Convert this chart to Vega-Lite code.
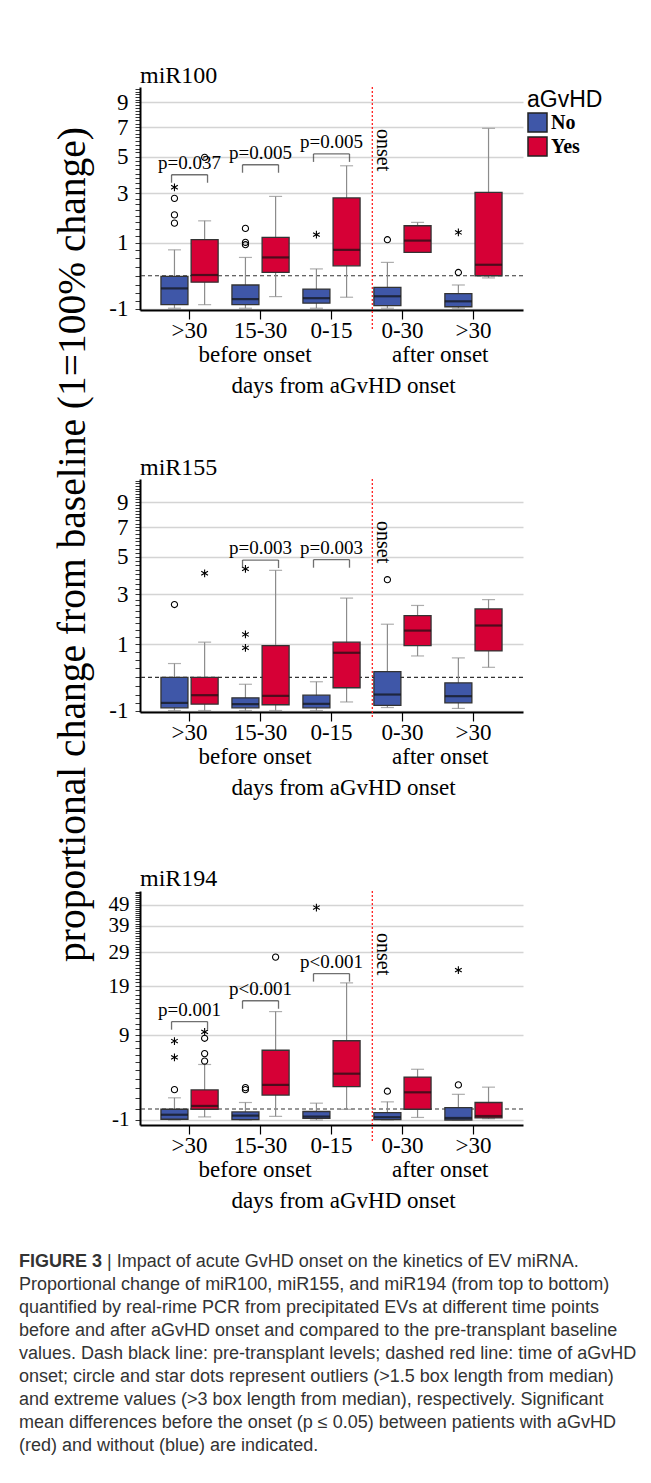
{
  "$schema": "https://vega.github.io/schema/vega-lite/v6.json",
  "background": "white",
  "padding": {"left": 19, "top": 63, "right": 5, "bottom": 5},
  "config": {"view": {"stroke": null}, "font": "Liberation Serif"},
  "datasets": {
    "refs": [{"event": "onset", "time": "a0-30", "baseline": 0}],
    "boxes": [
      {"mir": "miR100", "time": "b>30", "group": "No", "lo": -0.99, "q1": -0.87, "med": -0.36, "q3": -0.02, "hi": 0.77},
      {"mir": "miR100", "time": "b>30", "group": "Yes", "lo": -0.87, "q1": -0.18, "med": 0.02, "q3": 1.11, "hi": 1.81},
      {"mir": "miR100", "time": "b15-30", "group": "No", "lo": -0.99, "q1": -0.87, "med": -0.69, "q3": -0.26, "hi": 0.53},
      {"mir": "miR100", "time": "b15-30", "group": "Yes", "lo": -0.61, "q1": 0.09, "med": 0.53, "q3": 1.19, "hi": 2.86},
      {"mir": "miR100", "time": "b0-15", "group": "No", "lo": -0.99, "q1": -0.82, "med": -0.66, "q3": -0.38, "hi": 0.19},
      {"mir": "miR100", "time": "b0-15", "group": "Yes", "lo": -0.63, "q1": 0.28, "med": 0.77, "q3": 2.79, "hi": 4.45},
      {"mir": "miR100", "time": "a0-30", "group": "No", "lo": -0.99, "q1": -0.9, "med": -0.6, "q3": -0.33, "hi": 0.38},
      {"mir": "miR100", "time": "a0-30", "group": "Yes", "lo": 0.69, "q1": 0.69, "med": 1.08, "q3": 1.62, "hi": 1.75},
      {"mir": "miR100", "time": "a>30", "group": "No", "lo": -0.99, "q1": -0.94, "med": -0.76, "q3": -0.52, "hi": -0.26},
      {"mir": "miR100", "time": "a>30", "group": "Yes", "lo": -0.06, "q1": 0, "med": 0.31, "q3": 3.05, "hi": 6.9},
      {"mir": "miR155", "time": "b>30", "group": "No", "lo": -1, "q1": -0.91, "med": -0.75, "q3": 0, "hi": 0.39},
      {"mir": "miR155", "time": "b>30", "group": "Yes", "lo": -1, "q1": -0.79, "med": -0.51, "q3": 0, "hi": 1.07},
      {"mir": "miR155", "time": "b15-30", "group": "No", "lo": -1, "q1": -0.91, "med": -0.79, "q3": -0.59, "hi": -0.19},
      {"mir": "miR155", "time": "b15-30", "group": "Yes", "lo": -1, "q1": -0.81, "med": -0.53, "q3": 0.95, "hi": 4.22},
      {"mir": "miR155", "time": "b0-15", "group": "No", "lo": -1, "q1": -0.91, "med": -0.78, "q3": -0.51, "hi": -0.12},
      {"mir": "miR155", "time": "b0-15", "group": "Yes", "lo": -0.72, "q1": -0.29, "med": 0.72, "q3": 1.07, "hi": 2.82},
      {"mir": "miR155", "time": "a0-30", "group": "No", "lo": -0.9, "q1": -0.83, "med": -0.49, "q3": 0.16, "hi": 1.72},
      {"mir": "miR155", "time": "a0-30", "group": "Yes", "lo": 0.62, "q1": 0.95, "med": 1.48, "q3": 2.06, "hi": 2.49},
      {"mir": "miR155", "time": "a>30", "group": "No", "lo": -0.93, "q1": -0.75, "med": -0.54, "q3": -0.15, "hi": 0.56},
      {"mir": "miR155", "time": "a>30", "group": "Yes", "lo": 0.28, "q1": 0.78, "med": 1.67, "q3": 2.34, "hi": 2.75},
      {"mir": "miR194", "time": "b>30", "group": "No", "lo": -1, "q1": -0.93, "med": -0.51, "q3": -0.02, "hi": 1.02},
      {"mir": "miR194", "time": "b>30", "group": "Yes", "lo": -0.71, "q1": -0.02, "med": 0.27, "q3": 1.8, "hi": 4.72},
      {"mir": "miR194", "time": "b15-30", "group": "No", "lo": -1, "q1": -0.96, "med": -0.59, "q3": -0.26, "hi": 0.58},
      {"mir": "miR194", "time": "b15-30", "group": "Yes", "lo": -0.66, "q1": 1.29, "med": 2.33, "q3": 6.66, "hi": 13.3},
      {"mir": "miR194", "time": "b0-15", "group": "No", "lo": -1, "q1": -0.85, "med": -0.68, "q3": -0.22, "hi": 0.52},
      {"mir": "miR194", "time": "b0-15", "group": "Yes", "lo": -0.03, "q1": 2.15, "med": 3.59, "q3": 8.09, "hi": 19.9},
      {"mir": "miR194", "time": "a0-30", "group": "No", "lo": -1, "q1": -0.96, "med": -0.74, "q3": -0.32, "hi": 0.64},
      {"mir": "miR194", "time": "a0-30", "group": "Yes", "lo": -0.76, "q1": -0.02, "med": 1.56, "q3": 3.2, "hi": 4.12},
      {"mir": "miR194", "time": "a>30", "group": "No", "lo": -1, "q1": -1, "med": -0.81, "q3": 0.12, "hi": 1.36},
      {"mir": "miR194", "time": "a>30", "group": "Yes", "lo": -0.88, "q1": -0.81, "med": -0.63, "q3": 0.58, "hi": 2.09}
    ],
    "outliers": [
      {"mir": "miR100", "time": "b>30", "group": "No", "value": 2.77, "kind": "circle"},
      {"mir": "miR100", "time": "b>30", "group": "No", "value": 2.05, "kind": "circle"},
      {"mir": "miR100", "time": "b>30", "group": "No", "value": 1.72, "kind": "circle"},
      {"mir": "miR100", "time": "b>30", "group": "No", "value": 3.3, "kind": "star"},
      {"mir": "miR100", "time": "b>30", "group": "Yes", "value": 4.95, "kind": "circle"},
      {"mir": "miR100", "time": "b15-30", "group": "No", "value": 1.52, "kind": "circle"},
      {"mir": "miR100", "time": "b15-30", "group": "No", "value": 1.02, "kind": "circle"},
      {"mir": "miR100", "time": "b15-30", "group": "No", "value": 0.94, "kind": "circle"},
      {"mir": "miR100", "time": "b0-15", "group": "No", "value": 1.29, "kind": "star"},
      {"mir": "miR100", "time": "a0-30", "group": "No", "value": 1.11, "kind": "circle"},
      {"mir": "miR100", "time": "a>30", "group": "No", "value": 0.09, "kind": "circle"},
      {"mir": "miR100", "time": "a>30", "group": "No", "value": 1.37, "kind": "star"},
      {"mir": "miR155", "time": "b>30", "group": "No", "value": 2.53, "kind": "circle"},
      {"mir": "miR155", "time": "b>30", "group": "Yes", "value": 4.06, "kind": "star"},
      {"mir": "miR155", "time": "b15-30", "group": "No", "value": 4.3, "kind": "star"},
      {"mir": "miR155", "time": "b15-30", "group": "No", "value": 1.34, "kind": "star"},
      {"mir": "miR155", "time": "b15-30", "group": "No", "value": 0.88, "kind": "star"},
      {"mir": "miR155", "time": "a0-30", "group": "No", "value": 3.72, "kind": "circle"},
      {"mir": "miR194", "time": "b>30", "group": "No", "value": 1.83, "kind": "circle"},
      {"mir": "miR194", "time": "b>30", "group": "No", "value": 5.66, "kind": "star"},
      {"mir": "miR194", "time": "b>30", "group": "No", "value": 8.04, "kind": "star"},
      {"mir": "miR194", "time": "b>30", "group": "Yes", "value": 5.16, "kind": "circle"},
      {"mir": "miR194", "time": "b>30", "group": "Yes", "value": 6.18, "kind": "circle"},
      {"mir": "miR194", "time": "b>30", "group": "Yes", "value": 8.48, "kind": "circle"},
      {"mir": "miR194", "time": "b>30", "group": "Yes", "value": 9.54, "kind": "star"},
      {"mir": "miR194", "time": "b15-30", "group": "No", "value": 2.04, "kind": "circle"},
      {"mir": "miR194", "time": "b15-30", "group": "No", "value": 1.83, "kind": "circle"},
      {"mir": "miR194", "time": "b15-30", "group": "Yes", "value": 27.4, "kind": "circle"},
      {"mir": "miR194", "time": "b0-15", "group": "No", "value": 47.5, "kind": "star"},
      {"mir": "miR194", "time": "a0-30", "group": "No", "value": 1.67, "kind": "circle"},
      {"mir": "miR194", "time": "a>30", "group": "No", "value": 2.33, "kind": "circle"},
      {"mir": "miR194", "time": "a>30", "group": "No", "value": 23.4, "kind": "star"}
    ],
    "pvals": [
      {"mir": "miR100", "time": "b>30", "bracket": 3.95, "label": "p=0.037"},
      {"mir": "miR100", "time": "b15-30", "bracket": 4.51, "label": "p=0.005"},
      {"mir": "miR100", "time": "b0-15", "bracket": 5.16, "label": "p=0.005"},
      {"mir": "miR155", "time": "b15-30", "bracket": 4.81, "label": "p=0.003"},
      {"mir": "miR155", "time": "b0-15", "bracket": 4.83, "label": "p=0.003"},
      {"mir": "miR194", "time": "b>30", "bracket": 11.35, "label": "p=0.001"},
      {"mir": "miR194", "time": "b15-30", "bracket": 15.6, "label": "p<0.001"},
      {"mir": "miR194", "time": "b0-15", "bracket": 22.4, "label": "p<0.001"}
    ],
    "caption": [
      {"line": 1, "part": "bold", "text": "FIGURE 3"},
      {"line": 1, "part": "rest", "text": "| Impact of acute GvHD onset on the kinetics of EV miRNA."},
      {"line": 2, "part": "normal", "text": "Proportional change of miR100, miR155, and miR194 (from top to bottom)"},
      {"line": 3, "part": "normal", "text": "quantified by real-rime PCR from precipitated EVs at different time points"},
      {"line": 4, "part": "normal", "text": "before and after aGvHD onset and compared to the pre-transplant baseline"},
      {"line": 5, "part": "normal", "text": "values. Dash black line: pre-transplant levels; dashed red line: time of aGvHD"},
      {"line": 6, "part": "normal", "text": "onset; circle and star dots represent outliers (>1.5 box length from median)"},
      {"line": 7, "part": "normal", "text": "and extreme values (>3 box length from median), respectively. Significant"},
      {"line": 8, "part": "normal", "text": "mean differences before the onset (p ≤ 0.05) between patients with aGvHD"},
      {"line": 9, "part": "normal", "text": "(red) and without (blue) are indicated."}
    ]
  },
  "bounds": "flush",
  "spacing": 169,
  "resolve": {"scale": {"x": "independent", "y": "independent"}, "legend": {"color": "independent"}},
  "vconcat": [
    {
      "title": {"text": "miR100", "anchor": "start", "frame": "group", "fontSize": 24, "font": "Liberation Serif", "fontWeight": "normal", "color": "black", "offset": -29, "baseline": "alphabetic"},
      "width": 383,
      "height": 223,
      "layer": [
        {"data": {"name": "refs"}, "mark": {"type": "rule", "strokeDash": [4, 3], "color": "#333", "strokeWidth": 1.2},
         "encoding": {"y": {"field": "baseline", "type": "quantitative"}}},
        {"data": {"name": "boxes"}, "transform": [{"filter": "datum.mir == 'miR100'"}],
         "mark": {"type": "rule", "color": "#8c8c8c", "strokeWidth": 1.2},
         "encoding": {
           "x": {"field": "time", "type": "nominal", "scale": {"domain": ["b>30", "b15-30", "b0-15", "a0-30", "a>30"], "paddingInner": 0.15, "paddingOuter": 0.273},
                 "axis": {"title": ["before onset\u00a0\u00a0\u00a0\u00a0\u00a0\u00a0\u00a0\u00a0\u00a0\u00a0\u00a0\u00a0\u00a0\u00a0after onset", "days from aGvHD onset"], "labelExpr": "substring(datum.label, 1)", "labelAngle": 0, "labelFontSize": 23, "labelFont": "Liberation Serif", "labelColor": "black", "labelPadding": 0, "tickSize": 9, "tickColor": "black", "tickWidth": 1.2, "domainColor": "black", "domainWidth": 2, "titleFont": "Liberation Serif", "titleFontSize": 23, "titleFontWeight": "normal", "titleColor": "black", "titleX": 203, "titleY": 51, "titleBaseline": "alphabetic", "titleLineHeight": 31, "titleAlign": "center"}},
           "xOffset": {"field": "group", "type": "nominal", "scale": {"domain": ["No", "Yes"], "paddingInner": 0, "paddingOuter": 0}},
           "y": {"field": "lo", "type": "quantitative", "scale": {"type": "symlog", "constant": 4, "domain": [-1.05, 10.44], "nice": false, "zero": false},
                 "axis": {"title": "proportional change from baseline (1=100% change)", "titleFont": "Liberation Serif", "titleFontSize": 39.5, "titleFontWeight": "normal", "titleColor": "black", "titleAngle": 270, "titleX": -56, "titleY": 457, "titleAlign": "center", "titleBaseline": "alphabetic",
                          "tickCount": 500,
                          "values": [-1,-0.75,-0.5,-0.25,0,0.25,0.5,0.75,1,1.25,1.5,1.75,2,2.25,2.5,2.75,3,3.25,3.5,3.75,4,4.25,4.5,4.75,5,5.25,5.5,5.75,6,6.25,6.5,6.75,7,7.25,7.5,7.75,8,8.25,8.5,8.75,9,9.25,9.5,9.75,10,10.25],
                          "labelExpr": "indexof([-1,1,3,5,7,9], datum.value) >= 0 ? '' + datum.value : ''",
                          "grid": true, "gridColor": "#d4d4d4", "gridWidth": 1.5,
                          "gridOpacity": {"condition": {"test": "indexof([-1,1,3,5,7,9], datum.value) >= 0", "value": 1}, "value": 0},
                          "tickSize": 5, "tickColor": "black", "tickWidth": 0.8, "domainColor": "black", "domainWidth": 2,
                          "labelFont": "Liberation Serif", "labelFontSize": 23, "labelColor": "black", "labelPadding": 7, "labelOverlap": false, "labelFlush": false}},
           "y2": {"field": "hi"}
         }},
        {"data": {"name": "boxes"}, "transform": [{"filter": "datum.mir == 'miR100'"}],
         "mark": {"type": "tick", "orient": "horizontal", "size": 13, "thickness": 1.2, "color": "#8c8c8c"},
         "encoding": {"x": {"field": "time", "type": "nominal"}, "xOffset": {"field": "group", "type": "nominal"}, "y": {"field": "lo", "type": "quantitative"}}},
        {"data": {"name": "boxes"}, "transform": [{"filter": "datum.mir == 'miR100'"}],
         "mark": {"type": "tick", "orient": "horizontal", "size": 13, "thickness": 1.2, "color": "#8c8c8c"},
         "encoding": {"x": {"field": "time", "type": "nominal"}, "xOffset": {"field": "group", "type": "nominal"}, "y": {"field": "hi", "type": "quantitative"}}},
        {"data": {"name": "boxes"}, "transform": [{"filter": "datum.mir == 'miR100'"}],
         "mark": {"type": "bar", "width": 27, "stroke": "#333", "strokeWidth": 1.3, "opacity": 1},
         "encoding": {"x": {"field": "time", "type": "nominal"}, "xOffset": {"field": "group", "type": "nominal"},
           "y": {"field": "q1", "type": "quantitative"}, "y2": {"field": "q3"},
           "color": {"field": "group", "type": "nominal", "scale": {"domain": ["No", "Yes"], "range": ["#3F57A8", "#D60036"]},
             "legend": {"title": "aGvHD", "orient": "none", "legendX": 387, "legendY": 2, "padding": 0,
               "titleFont": "Liberation Sans", "titleFontSize": 23, "titleFontWeight": "normal", "titleColor": "black", "titleBaseline": "top", "titlePadding": 0,
               "labelFont": "Liberation Serif", "labelFontSize": 20, "labelFontWeight": "bold", "labelColor": "black", "labelOffset": 3,
               "symbolType": "square", "symbolSize": 361, "symbolStrokeColor": "#222", "symbolStrokeWidth": 1.5, "symbolOpacity": 1, "rowPadding": -1}}}},
        {"data": {"name": "boxes"}, "transform": [{"filter": "datum.mir == 'miR100'"}],
         "mark": {"type": "tick", "orient": "horizontal", "size": 27, "thickness": 2.2, "color": "#111"},
         "encoding": {"x": {"field": "time", "type": "nominal"}, "xOffset": {"field": "group", "type": "nominal"}, "y": {"field": "med", "type": "quantitative"}}},
        {"data": {"name": "outliers"}, "transform": [{"filter": "datum.mir == 'miR100' && datum.kind == 'circle'"}],
         "mark": {"type": "point", "shape": "circle", "filled": false, "size": 38, "color": "black", "strokeWidth": 1.1, "opacity": 1},
         "encoding": {"x": {"field": "time", "type": "nominal"}, "xOffset": {"field": "group", "type": "nominal"}, "y": {"field": "value", "type": "quantitative"}}},
        {"data": {"name": "outliers"}, "transform": [{"filter": "datum.mir == 'miR100' && datum.kind == 'star'"}],
         "mark": {"type": "point", "shape": "M0,-1L0,1M-0.87,-0.5L0.87,0.5M-0.87,0.5L0.87,-0.5", "filled": false, "size": 60, "color": "black", "strokeWidth": 1.1, "opacity": 1},
         "encoding": {"x": {"field": "time", "type": "nominal"}, "xOffset": {"field": "group", "type": "nominal"}, "y": {"field": "value", "type": "quantitative"}}},
        {"data": {"name": "pvals"}, "transform": [{"filter": "datum.mir == 'miR100'"}],
         "mark": {"type": "tick", "orient": "horizontal", "size": 36, "thickness": 1.3, "color": "#333"},
         "encoding": {"x": {"field": "time", "type": "nominal"}, "y": {"field": "bracket", "type": "quantitative"}}},
        {"data": {"name": "pvals"}, "transform": [{"filter": "datum.mir == 'miR100'"}],
         "mark": {"type": "tick", "orient": "vertical", "size": 8, "thickness": 1.3, "color": "#333", "xOffset": -18, "yOffset": 4},
         "encoding": {"x": {"field": "time", "type": "nominal"}, "y": {"field": "bracket", "type": "quantitative"}}},
        {"data": {"name": "pvals"}, "transform": [{"filter": "datum.mir == 'miR100'"}],
         "mark": {"type": "tick", "orient": "vertical", "size": 8, "thickness": 1.3, "color": "#333", "xOffset": 18, "yOffset": 4},
         "encoding": {"x": {"field": "time", "type": "nominal"}, "y": {"field": "bracket", "type": "quantitative"}}},
        {"data": {"name": "pvals"}, "transform": [{"filter": "datum.mir == 'miR100'"}],
         "mark": {"type": "text", "baseline": "alphabetic", "align": "center", "dy": -6, "fontSize": 19, "font": "Liberation Serif", "color": "black"},
         "encoding": {"x": {"field": "time", "type": "nominal"}, "y": {"field": "bracket", "type": "quantitative"}, "text": {"field": "label"}}},
        {"data": {"name": "refs"}, "mark": {"type": "rule", "color": "#ff2020", "strokeDash": [2, 2], "strokeWidth": 1.3},
         "encoding": {"x": {"field": "time", "type": "nominal", "bandPosition": 0}, "y": {"datum": 10.44, "type": "quantitative"}, "y2": {"datum": -1.79}}},
        {"data": {"name": "refs"}, "mark": {"type": "text", "angle": 90, "align": "left", "baseline": "alphabetic", "dx": 42, "dy": -5, "fontSize": 20, "font": "Liberation Serif", "color": "black"},
         "encoding": {"x": {"field": "time", "type": "nominal", "bandPosition": 0}, "y": {"datum": 10.44, "type": "quantitative"}, "text": {"field": "event"}}}
      ]
    },
    {
      "bounds": "flush",
      "spacing": 179,
      "resolve": {"scale": {"x": "independent", "y": "independent"}, "legend": {"color": "independent"}},
      "vconcat": [
        {
          "title": {"text": "miR155", "anchor": "start", "frame": "group", "fontSize": 24, "font": "Liberation Serif", "fontWeight": "normal", "color": "black", "offset": -29, "baseline": "alphabetic"},
          "width": 383,
          "height": 233,
          "layer": [
            {"data": {"name": "refs"}, "mark": {"type": "rule", "strokeDash": [4, 3], "color": "#333", "strokeWidth": 1.2},
             "encoding": {"y": {"field": "baseline", "type": "quantitative"}}},
            {"data": {"name": "boxes"}, "transform": [{"filter": "datum.mir == 'miR155'"}],
             "mark": {"type": "rule", "color": "#8c8c8c", "strokeWidth": 1.2},
             "encoding": {
               "x": {"field": "time", "type": "nominal", "scale": {"domain": ["b>30", "b15-30", "b0-15", "a0-30", "a>30"], "paddingInner": 0.15, "paddingOuter": 0.273},
                     "axis": {"title": ["before onset\u00a0\u00a0\u00a0\u00a0\u00a0\u00a0\u00a0\u00a0\u00a0\u00a0\u00a0\u00a0\u00a0\u00a0after onset", "days from aGvHD onset"], "labelExpr": "substring(datum.label, 1)", "labelAngle": 0, "labelFontSize": 23, "labelFont": "Liberation Serif", "labelColor": "black", "labelPadding": 0, "tickSize": 9, "tickColor": "black", "tickWidth": 1.2, "domainColor": "black", "domainWidth": 2, "titleFont": "Liberation Serif", "titleFontSize": 23, "titleFontWeight": "normal", "titleColor": "black", "titleX": 203, "titleY": 51, "titleBaseline": "alphabetic", "titleLineHeight": 31, "titleAlign": "center"}},
               "xOffset": {"field": "group", "type": "nominal", "scale": {"domain": ["No", "Yes"], "paddingInner": 0, "paddingOuter": 0}},
               "y": {"field": "lo", "type": "quantitative", "scale": {"type": "symlog", "constant": 4, "domain": [-1.05, 11.2], "nice": false, "zero": false},
                     "axis": {"title": null, "tickCount": 500,
                              "values": [-1,-0.75,-0.5,-0.25,0,0.25,0.5,0.75,1,1.25,1.5,1.75,2,2.25,2.5,2.75,3,3.25,3.5,3.75,4,4.25,4.5,4.75,5,5.25,5.5,5.75,6,6.25,6.5,6.75,7,7.25,7.5,7.75,8,8.25,8.5,8.75,9,9.25,9.5,9.75,10,10.25,10.5,10.75,11],
                              "labelExpr": "indexof([-1,1,3,5,7,9], datum.value) >= 0 ? '' + datum.value : ''",
                              "grid": true, "gridColor": "#d4d4d4", "gridWidth": 1.5,
                              "gridOpacity": {"condition": {"test": "indexof([-1,1,3,5,7,9], datum.value) >= 0", "value": 1}, "value": 0},
                              "tickSize": 5, "tickColor": "black", "tickWidth": 0.8, "domainColor": "black", "domainWidth": 2,
                              "labelFont": "Liberation Serif", "labelFontSize": 23, "labelColor": "black", "labelPadding": 7, "labelOverlap": false, "labelFlush": false}},
               "y2": {"field": "hi"}
             }},
            {"data": {"name": "boxes"}, "transform": [{"filter": "datum.mir == 'miR155'"}],
             "mark": {"type": "tick", "orient": "horizontal", "size": 13, "thickness": 1.2, "color": "#8c8c8c"},
             "encoding": {"x": {"field": "time", "type": "nominal"}, "xOffset": {"field": "group", "type": "nominal"}, "y": {"field": "lo", "type": "quantitative"}}},
            {"data": {"name": "boxes"}, "transform": [{"filter": "datum.mir == 'miR155'"}],
             "mark": {"type": "tick", "orient": "horizontal", "size": 13, "thickness": 1.2, "color": "#8c8c8c"},
             "encoding": {"x": {"field": "time", "type": "nominal"}, "xOffset": {"field": "group", "type": "nominal"}, "y": {"field": "hi", "type": "quantitative"}}},
            {"data": {"name": "boxes"}, "transform": [{"filter": "datum.mir == 'miR155'"}],
             "mark": {"type": "bar", "width": 27, "stroke": "#333", "strokeWidth": 1.3, "opacity": 1},
             "encoding": {"x": {"field": "time", "type": "nominal"}, "xOffset": {"field": "group", "type": "nominal"},
               "y": {"field": "q1", "type": "quantitative"}, "y2": {"field": "q3"},
               "color": {"field": "group", "type": "nominal", "scale": {"domain": ["No", "Yes"], "range": ["#3F57A8", "#D60036"]}, "legend": null}}},
            {"data": {"name": "boxes"}, "transform": [{"filter": "datum.mir == 'miR155'"}],
             "mark": {"type": "tick", "orient": "horizontal", "size": 27, "thickness": 2.2, "color": "#111"},
             "encoding": {"x": {"field": "time", "type": "nominal"}, "xOffset": {"field": "group", "type": "nominal"}, "y": {"field": "med", "type": "quantitative"}}},
            {"data": {"name": "outliers"}, "transform": [{"filter": "datum.mir == 'miR155' && datum.kind == 'circle'"}],
             "mark": {"type": "point", "shape": "circle", "filled": false, "size": 38, "color": "black", "strokeWidth": 1.1, "opacity": 1},
             "encoding": {"x": {"field": "time", "type": "nominal"}, "xOffset": {"field": "group", "type": "nominal"}, "y": {"field": "value", "type": "quantitative"}}},
            {"data": {"name": "outliers"}, "transform": [{"filter": "datum.mir == 'miR155' && datum.kind == 'star'"}],
             "mark": {"type": "point", "shape": "M0,-1L0,1M-0.87,-0.5L0.87,0.5M-0.87,0.5L0.87,-0.5", "filled": false, "size": 60, "color": "black", "strokeWidth": 1.1, "opacity": 1},
             "encoding": {"x": {"field": "time", "type": "nominal"}, "xOffset": {"field": "group", "type": "nominal"}, "y": {"field": "value", "type": "quantitative"}}},
            {"data": {"name": "pvals"}, "transform": [{"filter": "datum.mir == 'miR155'"}],
             "mark": {"type": "tick", "orient": "horizontal", "size": 36, "thickness": 1.3, "color": "#333"},
             "encoding": {"x": {"field": "time", "type": "nominal"}, "y": {"field": "bracket", "type": "quantitative"}}},
            {"data": {"name": "pvals"}, "transform": [{"filter": "datum.mir == 'miR155'"}],
             "mark": {"type": "tick", "orient": "vertical", "size": 8, "thickness": 1.3, "color": "#333", "xOffset": -18, "yOffset": 4},
             "encoding": {"x": {"field": "time", "type": "nominal"}, "y": {"field": "bracket", "type": "quantitative"}}},
            {"data": {"name": "pvals"}, "transform": [{"filter": "datum.mir == 'miR155'"}],
             "mark": {"type": "tick", "orient": "vertical", "size": 8, "thickness": 1.3, "color": "#333", "xOffset": 18, "yOffset": 4},
             "encoding": {"x": {"field": "time", "type": "nominal"}, "y": {"field": "bracket", "type": "quantitative"}}},
            {"data": {"name": "pvals"}, "transform": [{"filter": "datum.mir == 'miR155'"}],
             "mark": {"type": "text", "baseline": "alphabetic", "align": "center", "dy": -6, "fontSize": 19, "font": "Liberation Serif", "color": "black"},
             "encoding": {"x": {"field": "time", "type": "nominal"}, "y": {"field": "bracket", "type": "quantitative"}, "text": {"field": "label"}}},
            {"data": {"name": "refs"}, "mark": {"type": "rule", "color": "#ff2020", "strokeDash": [2, 2], "strokeWidth": 1.3},
             "encoding": {"x": {"field": "time", "type": "nominal", "bandPosition": 0}, "y": {"datum": 11.2, "type": "quantitative"}, "y2": {"datum": -1.28}}},
            {"data": {"name": "refs"}, "mark": {"type": "text", "angle": 90, "align": "left", "baseline": "alphabetic", "dx": 42, "dy": -5, "fontSize": 20, "font": "Liberation Serif", "color": "black"},
             "encoding": {"x": {"field": "time", "type": "nominal", "bandPosition": 0}, "y": {"datum": 11.2, "type": "quantitative"}, "text": {"field": "event"}}}
          ]
        },
        {
          "bounds": "flush",
          "spacing": 142,
          "resolve": {"scale": {"x": "independent", "y": "independent"}, "legend": {"color": "independent"}},
          "vconcat": [
            {
              "title": {"text": "miR194", "anchor": "start", "frame": "group", "fontSize": 24, "font": "Liberation Serif", "fontWeight": "normal", "color": "black", "offset": -29, "baseline": "alphabetic"},
              "width": 383,
              "height": 234,
              "layer": [
                {"data": {"name": "refs"}, "mark": {"type": "rule", "strokeDash": [4, 3], "color": "#333", "strokeWidth": 1.2},
                 "encoding": {"y": {"field": "baseline", "type": "quantitative"}}},
                {"data": {"name": "boxes"}, "transform": [{"filter": "datum.mir == 'miR194'"}],
                 "mark": {"type": "rule", "color": "#8c8c8c", "strokeWidth": 1.2},
                 "encoding": {
                   "x": {"field": "time", "type": "nominal", "scale": {"domain": ["b>30", "b15-30", "b0-15", "a0-30", "a>30"], "paddingInner": 0.15, "paddingOuter": 0.273},
                         "axis": {"title": ["before onset\u00a0\u00a0\u00a0\u00a0\u00a0\u00a0\u00a0\u00a0\u00a0\u00a0\u00a0\u00a0\u00a0\u00a0after onset", "days from aGvHD onset"], "labelExpr": "substring(datum.label, 1)", "labelAngle": 0, "labelFontSize": 23, "labelFont": "Liberation Serif", "labelColor": "black", "labelPadding": 0, "tickSize": 9, "tickColor": "black", "tickWidth": 1.2, "domainColor": "black", "domainWidth": 2, "titleFont": "Liberation Serif", "titleFontSize": 23, "titleFontWeight": "normal", "titleColor": "black", "titleX": 203, "titleY": 51, "titleBaseline": "alphabetic", "titleLineHeight": 31, "titleAlign": "center"}},
                   "xOffset": {"field": "group", "type": "nominal", "scale": {"domain": ["No", "Yes"], "paddingInner": 0, "paddingOuter": 0}},
                   "y": {"field": "lo", "type": "quantitative", "scale": {"type": "symlog", "constant": 10, "domain": [-1.49, 56.4], "nice": false, "zero": false},
                         "axis": {"title": null, "tickCount": 500,
                                  "values": [-1,0,1,2,3,4,5,6,7,8,9,10,11,12,13,14,15,16,17,18,19,20,21,22,23,24,25,26,27,28,29,30,31,32,33,34,35,36,37,38,39,40,41,42,43,44,45,46,47,48,49,50,51,52,53,54,55,56],
                                  "labelExpr": "indexof([-1,9,19,29,39,49], datum.value) >= 0 ? '' + datum.value : ''",
                                  "grid": true, "gridColor": "#d4d4d4", "gridWidth": 1.5,
                                  "gridOpacity": {"condition": {"test": "indexof([-1,9,19,29,39,49], datum.value) >= 0", "value": 1}, "value": 0},
                                  "tickSize": 5, "tickColor": "black", "tickWidth": 0.8, "domainColor": "black", "domainWidth": 2,
                                  "labelFont": "Liberation Serif", "labelFontSize": 21, "labelColor": "black", "labelPadding": 6, "labelOverlap": false, "labelFlush": false}},
                   "y2": {"field": "hi"}
                 }},
                {"data": {"name": "boxes"}, "transform": [{"filter": "datum.mir == 'miR194'"}],
                 "mark": {"type": "tick", "orient": "horizontal", "size": 13, "thickness": 1.2, "color": "#8c8c8c"},
                 "encoding": {"x": {"field": "time", "type": "nominal"}, "xOffset": {"field": "group", "type": "nominal"}, "y": {"field": "lo", "type": "quantitative"}}},
                {"data": {"name": "boxes"}, "transform": [{"filter": "datum.mir == 'miR194'"}],
                 "mark": {"type": "tick", "orient": "horizontal", "size": 13, "thickness": 1.2, "color": "#8c8c8c"},
                 "encoding": {"x": {"field": "time", "type": "nominal"}, "xOffset": {"field": "group", "type": "nominal"}, "y": {"field": "hi", "type": "quantitative"}}},
                {"data": {"name": "boxes"}, "transform": [{"filter": "datum.mir == 'miR194'"}],
                 "mark": {"type": "bar", "width": 27, "stroke": "#333", "strokeWidth": 1.3, "opacity": 1},
                 "encoding": {"x": {"field": "time", "type": "nominal"}, "xOffset": {"field": "group", "type": "nominal"},
                   "y": {"field": "q1", "type": "quantitative"}, "y2": {"field": "q3"},
                   "color": {"field": "group", "type": "nominal", "scale": {"domain": ["No", "Yes"], "range": ["#3F57A8", "#D60036"]}, "legend": null}}},
                {"data": {"name": "boxes"}, "transform": [{"filter": "datum.mir == 'miR194'"}],
                 "mark": {"type": "tick", "orient": "horizontal", "size": 27, "thickness": 2.2, "color": "#111"},
                 "encoding": {"x": {"field": "time", "type": "nominal"}, "xOffset": {"field": "group", "type": "nominal"}, "y": {"field": "med", "type": "quantitative"}}},
                {"data": {"name": "outliers"}, "transform": [{"filter": "datum.mir == 'miR194' && datum.kind == 'circle'"}],
                 "mark": {"type": "point", "shape": "circle", "filled": false, "size": 38, "color": "black", "strokeWidth": 1.1, "opacity": 1},
                 "encoding": {"x": {"field": "time", "type": "nominal"}, "xOffset": {"field": "group", "type": "nominal"}, "y": {"field": "value", "type": "quantitative"}}},
                {"data": {"name": "outliers"}, "transform": [{"filter": "datum.mir == 'miR194' && datum.kind == 'star'"}],
                 "mark": {"type": "point", "shape": "M0,-1L0,1M-0.87,-0.5L0.87,0.5M-0.87,0.5L0.87,-0.5", "filled": false, "size": 60, "color": "black", "strokeWidth": 1.1, "opacity": 1},
                 "encoding": {"x": {"field": "time", "type": "nominal"}, "xOffset": {"field": "group", "type": "nominal"}, "y": {"field": "value", "type": "quantitative"}}},
                {"data": {"name": "pvals"}, "transform": [{"filter": "datum.mir == 'miR194'"}],
                 "mark": {"type": "tick", "orient": "horizontal", "size": 36, "thickness": 1.3, "color": "#333"},
                 "encoding": {"x": {"field": "time", "type": "nominal"}, "y": {"field": "bracket", "type": "quantitative"}}},
                {"data": {"name": "pvals"}, "transform": [{"filter": "datum.mir == 'miR194'"}],
                 "mark": {"type": "tick", "orient": "vertical", "size": 8, "thickness": 1.3, "color": "#333", "xOffset": -18, "yOffset": 4},
                 "encoding": {"x": {"field": "time", "type": "nominal"}, "y": {"field": "bracket", "type": "quantitative"}}},
                {"data": {"name": "pvals"}, "transform": [{"filter": "datum.mir == 'miR194'"}],
                 "mark": {"type": "tick", "orient": "vertical", "size": 8, "thickness": 1.3, "color": "#333", "xOffset": 18, "yOffset": 4},
                 "encoding": {"x": {"field": "time", "type": "nominal"}, "y": {"field": "bracket", "type": "quantitative"}}},
                {"data": {"name": "pvals"}, "transform": [{"filter": "datum.mir == 'miR194'"}],
                 "mark": {"type": "text", "baseline": "alphabetic", "align": "center", "dy": -6, "fontSize": 19, "font": "Liberation Serif", "color": "black"},
                 "encoding": {"x": {"field": "time", "type": "nominal"}, "y": {"field": "bracket", "type": "quantitative"}, "text": {"field": "label"}}},
                {"data": {"name": "refs"}, "mark": {"type": "rule", "color": "#ff2020", "strokeDash": [2, 2], "strokeWidth": 1.3},
                 "encoding": {"x": {"field": "time", "type": "nominal", "bandPosition": 0}, "y": {"datum": 56.4, "type": "quantitative"}, "y2": {"datum": -3.2}}},
                {"data": {"name": "refs"}, "mark": {"type": "text", "angle": 90, "align": "left", "baseline": "alphabetic", "dx": 42, "dy": -5, "fontSize": 20, "font": "Liberation Serif", "color": "black"},
                 "encoding": {"x": {"field": "time", "type": "nominal", "bandPosition": 0}, "y": {"datum": 56.4, "type": "quantitative"}, "text": {"field": "event"}}}
              ]
            },
            {
              "width": 383,
              "height": 184,
              "data": {"name": "caption"},
              "layer": [
                {"transform": [{"filter": "datum.part == 'bold'"}],
                 "mark": {"type": "text", "align": "left", "baseline": "alphabetic", "dx": -121, "font": "Liberation Sans", "fontSize": 18, "fontWeight": "bold", "color": "#333"},
                 "encoding": {"x": {"value": 0}, "y": {"field": "line", "type": "quantitative", "scale": {"domain": [1, 9], "reverse": true, "zero": false, "nice": false}, "axis": null}, "text": {"field": "text"}}},
                {"transform": [{"filter": "datum.part == 'rest'"}],
                 "mark": {"type": "text", "align": "left", "baseline": "alphabetic", "dx": -33, "font": "Liberation Sans", "fontSize": 18, "color": "#333"},
                 "encoding": {"x": {"value": 0}, "y": {"field": "line", "type": "quantitative", "axis": null}, "text": {"field": "text"}}},
                {"transform": [{"filter": "datum.part == 'normal'"}],
                 "mark": {"type": "text", "align": "left", "baseline": "alphabetic", "dx": -121, "font": "Liberation Sans", "fontSize": 18, "color": "#333"},
                 "encoding": {"x": {"value": 0}, "y": {"field": "line", "type": "quantitative", "axis": null}, "text": {"field": "text"}}}
              ]
            }
          ]
        }
      ]
    }
  ]
}
